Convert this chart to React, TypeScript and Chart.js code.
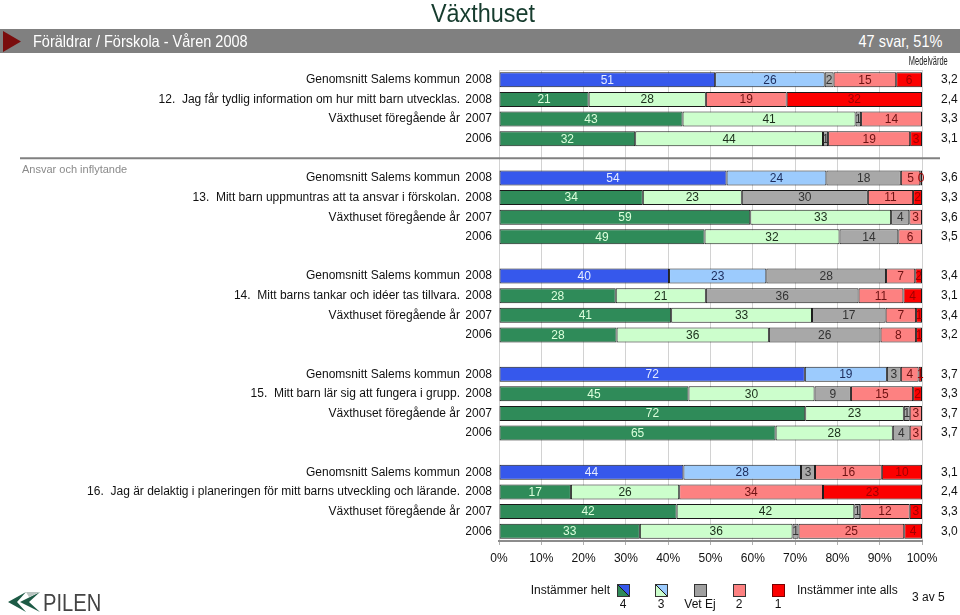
import React, { useEffect, useRef } from "react";
import { Chart, registerables } from "chart.js";

Chart.register(...registerables);

// ---------- data ----------
const rowNames = [
  "Genomsnitt Salems kommun",
  "12.  Jag får tydlig information om hur mitt barn utvecklas.",
  "Växthuset föregående år",
  "",
  "",
  "Genomsnitt Salems kommun",
  "13.  Mitt barn uppmuntras att ta ansvar i förskolan.",
  "Växthuset föregående år",
  "",
  "",
  "Genomsnitt Salems kommun",
  "14.  Mitt barns tankar och idéer tas tillvara.",
  "Växthuset föregående år",
  "",
  "",
  "Genomsnitt Salems kommun",
  "15.  Mitt barn lär sig att fungera i grupp.",
  "Växthuset föregående år",
  "",
  "",
  "Genomsnitt Salems kommun",
  "16.  Jag är delaktig i planeringen för mitt barns utveckling och lärande.",
  "Växthuset föregående år",
  "",
];

const rowYears = [
  "2008", "2008", "2007", "2006", "",
  "2008", "2008", "2007", "2006", "",
  "2008", "2008", "2007", "2006", "",
  "2008", "2008", "2007", "2006", "",
  "2008", "2008", "2007", "2006",
];

const rowIsKommun = [
  true, false, false, false, false,
  true, false, false, false, false,
  true, false, false, false, false,
  true, false, false, false, false,
  true, false, false, false,
];

const meanLabels = [
  "3,2", "2,4", "3,3", "3,1", "",
  "3,6", "3,3", "3,6", "3,5", "",
  "3,4", "3,1", "3,4", "3,2", "",
  "3,7", "3,3", "3,7", "3,7", "",
  "3,1", "2,4", "3,3", "3,0",
];

const seriesNames = ["4", "3", "Vet Ej", "2", "1"];

const val4 = [51.1, 21.2, 43.4, 32.2, null, 53.8, 34.0, 59.4, 48.6, null, 40.2, 27.6, 40.7, 27.8, null, 72.3, 44.8, 72.4, 65.4, null, 43.6, 17.0, 42.0, 33.3];
const val3 = [25.9, 27.7, 40.9, 44.4, null, 23.6, 23.4, 33.3, 31.9, null, 23.0, 21.3, 33.3, 36.0, null, 19.4, 29.8, 23.3, 27.7, null, 27.8, 25.6, 42.0, 36.1];
const valVetEj = [2.1, 0, 1.3, 1.2, null, 17.6, 29.8, 4.3, 13.9, null, 28.3, 36.1, 17.4, 26.4, null, 3.3, 8.6, 1.4, 4.0, null, 3.3, 0, 1.4, 1.4];
const val2 = [14.8, 19.1, 14.4, 19.4, null, 4.6, 10.7, 3.0, 5.6, null, 6.9, 10.6, 7.2, 8.4, null, 4.2, 14.7, 2.9, 2.9, null, 15.8, 34.0, 11.7, 25.0];
const val1 = [6.1, 32.0, 0, 2.8, null, 0.4, 2.1, 0, 0, null, 1.6, 4.4, 1.4, 1.4, null, 0.8, 2.1, 0, 0, null, 9.5, 23.4, 2.9, 4.2];

const xTickValues = [0, 10, 20, 30, 40, 50, 60, 70, 80, 90, 100];

// ---------- styles ----------
const kommunColors = ["#3658ec", "#9ccbfd", "#a8a8a8", "#fd8181", "#fc0000"];
const vaxColors = ["#2f8b59", "#ccfecc", "#a8a8a8", "#fd8181", "#fc0000"];
const kommunText = ["#e6ecff", "#1c2c5c", "#333333", "#6e1212", "#a00000"];
const vaxText = ["#dcffdc", "#1b2e1b", "#333333", "#6e1212", "#a00000"];

const FONT = "'Liberation Sans', Arial, Helvetica, sans-serif";

const overlayPlugin = {
  id: "overlay",
  beforeDatasetsDraw(chart: any) {
    const ctx = chart.ctx;
    const y = chart.scales.y.getPixelForValue(4);
    ctx.save();
    ctx.strokeStyle = "#808080";
    ctx.lineWidth = 2;
    ctx.beginPath();
    ctx.moveTo(20, y);
    ctx.lineTo(940, y);
    ctx.stroke();
    const a = chart.chartArea;
    ctx.strokeStyle = "#d6d6d6";
    ctx.lineWidth = 1;
    ctx.beginPath();
    ctx.moveTo(a.left, a.top + 0.5);
    ctx.lineTo(a.right, a.top + 0.5);
    ctx.stroke();
    ctx.restore();
  },
  afterDatasetsDraw(chart: any) {
    const ctx = chart.ctx;
    ctx.save();
    ctx.font = `12px ${FONT}`;
    ctx.textAlign = "center";
    ctx.textBaseline = "middle";
    chart.data.datasets.forEach((ds: any, di: number) => {
      const meta = chart.getDatasetMeta(di);
      meta.data.forEach((el: any, i: number) => {
        const v = ds.data[i];
        if (v == null || v <= 0) return;
        const p = el.getProps(["x", "y", "base"], true);
        const cx = (p.x + p.base) / 2;
        ctx.fillStyle = rowIsKommun[i] ? kommunText[di] : vaxText[di];
        ctx.fillText(String(Math.round(v)), cx, p.y + 0.5);
      });
    });
    ctx.restore();
  },
};

function Txt(props: {
  x: number;
  y: number;
  size: number;
  align?: "left" | "right" | "center";
  color?: string;
  sx?: number;
  weight?: number;
  children: React.ReactNode;
}) {
  const { x, y, size, align = "left", color = "#111", sx = 1, weight = 400 } = props;
  const h = Math.round(size * 1.3);
  const style: React.CSSProperties = {
    position: "absolute",
    top: y - h / 2,
    height: h,
    lineHeight: `${h}px`,
    fontSize: size,
    fontFamily: FONT,
    fontWeight: weight,
    color,
    whiteSpace: "nowrap",
  };
  if (align === "left") {
    style.left = x;
    style.transformOrigin = "left center";
  } else if (align === "right") {
    style.right = 960 - x;
    style.transformOrigin = "right center";
  } else {
    style.left = x - 200;
    style.width = 400;
    style.textAlign = "center";
    style.transformOrigin = "center center";
  }
  if (sx !== 1) style.transform = `scaleX(${sx})`;
  return <div style={style}>{props.children}</div>;
}

function Swatch(props: { x: number; bg: string; border?: string }) {
  return (
    <div
      style={{
        position: "absolute",
        left: props.x,
        top: 584,
        width: 13,
        height: 13,
        boxSizing: "border-box",
        border: `1px solid ${props.border || "#333"}`,
        background: props.bg,
      }}
    />
  );
}

const yTickFont = { size: 12, family: FONT };

export default function App() {
  const ref = useRef<HTMLCanvasElement | null>(null);

  useEffect(() => {
    if (!ref.current) return;
    const allValues = [val4, val3, valVetEj, val2, val1];
    const datasets = allValues.map((vals, d) => ({
      label: seriesNames[d],
      data: vals,
      backgroundColor: rowIsKommun.map((k) => (k ? kommunColors[d] : vaxColors[d])),
      borderColor: "#1a1a1a",
      borderWidth: 1,
      borderSkipped: false,
      categoryPercentage: 1,
      barPercentage: 0.76,
    }));

    const chart = new Chart(ref.current, {
      type: "bar",
      data: { labels: rowYears, datasets: datasets as any },
      options: {
        indexAxis: "y",
        animation: false,
        responsive: false,
        maintainAspectRatio: false,
        layout: { padding: { top: 70, left: 0, right: 0, bottom: 0 } },
        plugins: { legend: { display: false }, tooltip: { enabled: false } },
        scales: {
          x: {
            stacked: true,
            min: 0,
            max: 100,
            afterBuildTicks: (s: any) => {
              s.ticks = xTickValues.map((v) => ({ value: v }));
            },
            ticks: {
              callback: (v: any) => `${v}%`,
              font: { size: 12, family: FONT },
              color: "#111",
              padding: 6,
              maxRotation: 0,
              autoSkip: false,
            },
            grid: { color: "#d2d2d2", drawTicks: true, tickLength: 4, tickColor: "#b0b0b0" },
            border: { color: "#8c8c8c", width: 2 },
            afterFit: (s: any) => {
              s.height = 74;
            },
          },
          y: {
            type: "category",
            position: "left",
            stacked: true,
            offset: true,
            weight: 0,
            grid: { display: false, drawTicks: false, tickLength: 0 },
            border: { display: false },
            ticks: { padding: 7, autoSkip: false, font: yTickFont, color: "#111" },
            afterFit: (s: any) => {
              s.width = 33;
            },
          },
          yName: {
            type: "category",
            labels: rowNames,
            position: "left",
            offset: true,
            weight: 1,
            grid: { display: false, drawTicks: false, tickLength: 0 },
            border: { display: false },
            ticks: { padding: 6, autoSkip: false, font: yTickFont, color: "#111" },
            afterFit: (s: any) => {
              s.width = 466;
            },
          },
          yMean: {
            type: "category",
            labels: meanLabels,
            position: "right",
            offset: true,
            grid: { display: false, drawTicks: false, tickLength: 0 },
            border: { display: false },
            ticks: { padding: 19, autoSkip: false, font: yTickFont, color: "#111" },
            afterFit: (s: any) => {
              s.width = 38;
            },
          },
        } as any,
      },
      plugins: [overlayPlugin],
    });
    return () => chart.destroy();
  }, []);

  return (
    <div
      style={{
        position: "fixed",
        left: 0,
        top: 0,
        width: 960,
        height: 615,
        background: "#fff",
        overflow: "hidden",
        fontFamily: FONT,
      }}
    >
      <canvas ref={ref} width={960} height={615} style={{ position: "absolute", left: 0, top: 0, width: 960, height: 615 }} />

      {/* title */}
      <div
        style={{
          position: "absolute",
          left: 383,
          width: 200,
          top: 0,
          textAlign: "center",
          fontFamily: FONT,
          fontSize: 26,
          lineHeight: "26px",
          color: "#163c2e",
          transform: "scaleX(0.9)",
          transformOrigin: "center center",
        }}
      >
        Växthuset
      </div>

      {/* banner */}
      <div style={{ position: "absolute", left: 0, top: 29, width: 960, height: 24, background: "#808080" }} />
      <svg style={{ position: "absolute", left: 0, top: 0 }} width={30} height={60}>
        <polygon points="3,31 21,41.5 3,52" fill="#7a0d0d" />
      </svg>
      <Txt x={33} y={41} size={16.5} color="#ffffff" sx={0.88}>
        Föräldrar / Förskola - Våren 2008
      </Txt>
      <Txt x={942} y={41} size={16.5} color="#ffffff" sx={0.88} align="right">
        47 svar, 51%
      </Txt>

      <Txt x={948} y={61} size={12} color="#222" sx={0.62} align="right">
        Medelvärde
      </Txt>

      <Txt x={22} y={169} size={11} color="#8a8a8a">
        Ansvar och inflytande
      </Txt>

      {/* legend */}
      <Txt x={610} y={590} size={12} align="right">
        Instämmer helt
      </Txt>
      <Swatch x={617} bg="linear-gradient(to top right, #2f8b59 calc(50% - 0.7px), #1a1a1a 50%, #3658ec calc(50% + 0.7px))" />
      <Swatch x={655} bg="linear-gradient(to top right, #ccfecc calc(50% - 0.7px), #1a1a1a 50%, #9ccbfd calc(50% + 0.7px))" />
      <Swatch x={694} bg="#a0a0a0" />
      <Swatch x={733} bg="#fd8181" />
      <Swatch x={772} bg="#fc0000" border="#7a0000" />
      <Txt x={623} y={604} size={12} align="center">4</Txt>
      <Txt x={661} y={604} size={12} align="center">3</Txt>
      <Txt x={700} y={604} size={12} align="center">Vet Ej</Txt>
      <Txt x={739} y={604} size={12} align="center">2</Txt>
      <Txt x={778} y={604} size={12} align="center">1</Txt>
      <Txt x={797} y={590} size={12}>
        Instämmer inte alls
      </Txt>
      <Txt x={912} y={597} size={12}>
        3 av 5
      </Txt>

      {/* logo */}
      <svg style={{ position: "absolute", left: 0, top: 585 }} width={50} height={30}>
        <polygon points="8,17 26,7 17,17 26,27" fill="#1d5a45" />
        <polygon points="20,17 40,7 29,17 40,27" fill="#1d5a45" />
        <polygon points="26,7 40,7 29,12" fill="#b9c4c0" />
      </svg>
      <Txt x={43} y={602} size={24} color="#444" sx={0.84}>
        PILEN
      </Txt>
    </div>
  );
}
